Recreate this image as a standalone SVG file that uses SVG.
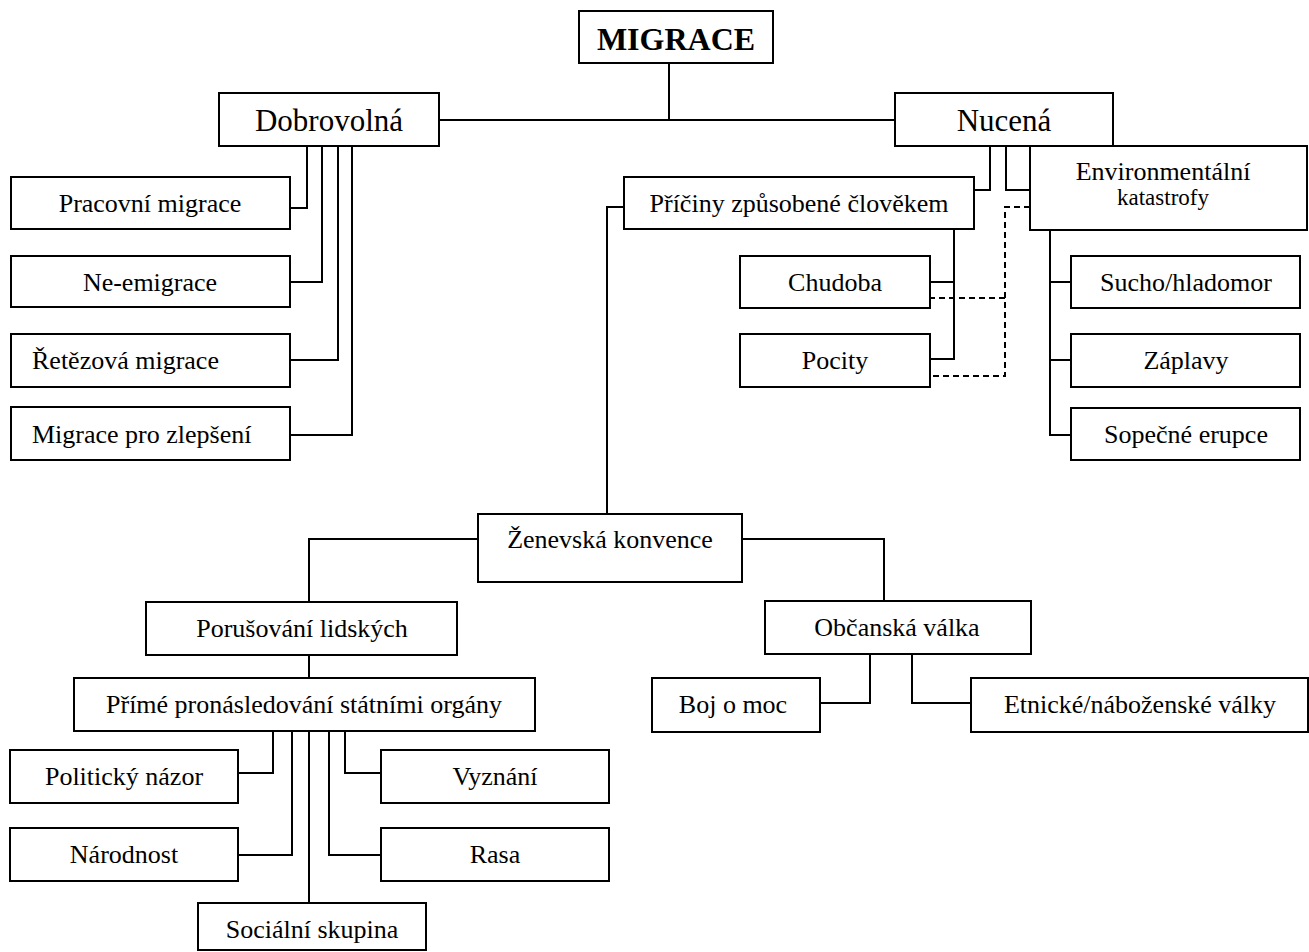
<svg xmlns="http://www.w3.org/2000/svg" width="1309" height="952" viewBox="0 0 1309 952">
<style>
rect{fill:#fff;stroke:#000;stroke-width:2}
text{font-family:"Liberation Serif","Times New Roman",serif;font-size:26px;fill:#000;text-anchor:middle}
.big{font-size:31px}
.title{font-size:32px;font-weight:bold}
.small{font-size:23px}
.l{text-anchor:start}
#connectors path{fill:none;stroke:#000;stroke-width:2}
#connectors .dash{stroke-dasharray:6 4}
</style>
<rect x="0" y="0" width="1309" height="952" style="fill:#fff;stroke:none"/>
<g id="connectors">
<path d="M669 63V120M439 120H895"/>
<path d="M307 146V208H290M322 146V282H290M338 146V360H290M352 146V435H290"/>
<path d="M990 146V190H974M1006 146V190H1030"/>
<path d="M954 229V359H930M930 282H954"/>
<path class="dash" d="M1030 207H1005V376H930M1005 298H930"/>
<path d="M1050 230V435H1071M1050 282H1071M1050 360H1071"/>
<path d="M624 207H607V514"/>
<path d="M477 539H309V602M309 655V678"/>
<path d="M740 539H884V601"/>
<path d="M870 654V703H820M912 654V703H971"/>
<path d="M273 731V773H238M292 731V855H238M309 731V903M329 731V855H381M345 731V773H381"/>
</g>
<g id="migrace"><rect x="579" y="11" width="194" height="52"/><text class="title" x="676" y="50">MIGRACE</text></g>
<g id="dobrovolna"><rect x="219" y="93" width="220" height="53"/><text class="big" x="329" y="131">Dobrovolná</text></g>
<g id="nucena"><rect x="895" y="93" width="218" height="53"/><text class="big" x="1004" y="131">Nucená</text></g>
<g id="pracovni"><rect x="11" y="177" width="279" height="52"/><text x="150" y="212">Pracovní migrace</text></g>
<g id="neemigrace"><rect x="11" y="256" width="279" height="51"/><text x="150" y="291">Ne-emigrace</text></g>
<g id="retezova"><rect x="11" y="334" width="279" height="53"/><text class="l" x="32" y="369">Řetězová migrace</text></g>
<g id="zlepseni"><rect x="11" y="407" width="279" height="53"/><text class="l" x="32" y="443">Migrace pro zlepšení</text></g>
<g id="priciny"><rect x="624" y="177" width="350" height="52"/><text x="799" y="212">Příčiny způsobené člověkem</text></g>
<g id="environmentalni"><rect x="1030" y="146" width="277" height="84"/><text x="1163" y="180">Environmentální</text><text class="small" x="1163" y="205">katastrofy</text></g>
<g id="chudoba"><rect x="740" y="256" width="190" height="52"/><text x="835" y="291">Chudoba</text></g>
<g id="pocity"><rect x="740" y="334" width="190" height="53"/><text x="835" y="369">Pocity</text></g>
<g id="sucho"><rect x="1071" y="256" width="229" height="52"/><text x="1186" y="291">Sucho/hladomor</text></g>
<g id="zaplavy"><rect x="1071" y="334" width="229" height="53"/><text x="1186" y="369">Záplavy</text></g>
<g id="sopecne"><rect x="1071" y="408" width="229" height="52"/><text x="1186" y="443">Sopečné erupce</text></g>
<g id="zenevska"><rect x="478" y="514" width="264" height="68"/><text x="610" y="548">Ženevská konvence</text></g>
<g id="porusovani"><rect x="146" y="602" width="311" height="53"/><text x="302" y="637">Porušování lidských</text></g>
<g id="obcanska"><rect x="765" y="601" width="266" height="53"/><text x="897" y="636">Občanská válka</text></g>
<g id="prime"><rect x="74" y="678" width="461" height="53"/><text x="304" y="713">Přímé pronásledování státními orgány</text></g>
<g id="boj"><rect x="652" y="678" width="168" height="54"/><text x="733" y="713">Boj o moc</text></g>
<g id="etnicke"><rect x="971" y="678" width="337" height="54"/><text x="1140" y="713">Etnické/náboženské války</text></g>
<g id="politicky"><rect x="10" y="750" width="228" height="53"/><text x="124" y="785">Politický názor</text></g>
<g id="vyznani"><rect x="381" y="750" width="228" height="53"/><text x="495" y="785">Vyznání</text></g>
<g id="narodnost"><rect x="10" y="828" width="228" height="53"/><text x="124" y="863">Národnost</text></g>
<g id="rasa"><rect x="381" y="828" width="228" height="53"/><text x="495" y="863">Rasa</text></g>
<g id="socialni"><rect x="198" y="903" width="228" height="47"/><text x="312" y="938">Sociální skupina</text></g>
</svg>
